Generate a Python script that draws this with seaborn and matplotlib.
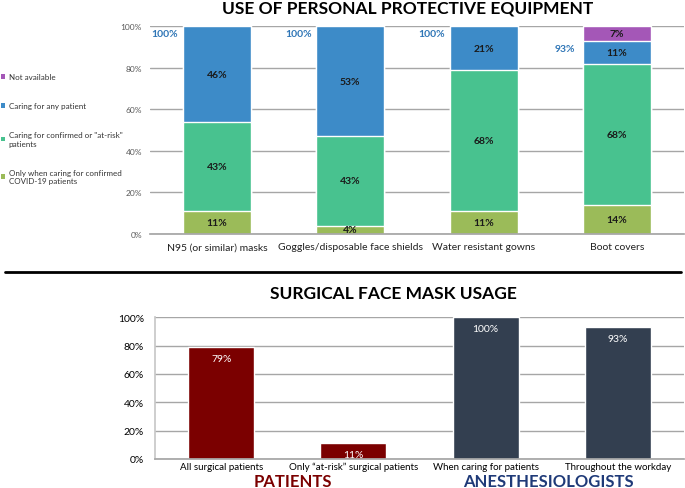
import matplotlib
matplotlib.use("Agg")
import matplotlib.pyplot as plt
import seaborn as sns
import pandas as pd
import numpy as np
from matplotlib.patches import Patch
from matplotlib.lines import Line2D

sns.set_theme(style="white")
plt.rcParams['font.family'] = ['Lato', 'DejaVu Sans']

# ---------------- data ----------------
ppe_items = ["N95 (or similar) masks", "Goggles/disposable face shields",
             "Water resistant gowns", "Boot covers"]
only_confirmed = [11, 4, 11, 14]
confirmed_or_risk = [43, 43, 68, 68]
any_patient = [46, 53, 21, 11]
not_available = [0, 0, 0, 7]
ppe_totals = [100, 100, 100, 93]
series_names = ["Only when caring for confirmed\nCOVID-19 patients",
                "Caring for confirmed or \"at-risk\"\npatients",
                "Caring for any patient",
                "Not available"]
series_colors = ["#9BBB59", "#48C28F", "#3D8BC8", "#A457B7"]

mask_cats = ["All surgical patients", "Only \u201cat-risk\u201d surgical patients",
             "When caring for patients", "Throughout the workday"]
mask_vals = [79, 11, 100, 93]
mask_group = ["PATIENTS", "PATIENTS", "ANESTHESIOLOGISTS", "ANESTHESIOLOGISTS"]
group_colors = {"PATIENTS": "#7B0000", "ANESTHESIOLOGISTS": "#333F50"}
group_text_colors = {"PATIENTS": "#7B0000", "ANESTHESIOLOGISTS": "#1F3A78"}

# ---------------- figure ----------------
W, H = 685, 489
fig = plt.figure(figsize=(W / 100, H / 100), dpi=100)

def ax_rect(x0, x1, ytop, ybot):
    return [x0 / W, 1 - ybot / H, (x1 - x0) / W, (ybot - ytop) / H]

# ---- top chart: stacked bars ----
ax1 = fig.add_axes(ax_rect(150.3, 683.7, 27.3, 234.8))
layers = [only_confirmed, confirmed_or_risk, any_patient, not_available]
cum = np.cumsum(np.array(layers), axis=0)
for k in range(len(layers) - 1, -1, -1):
    df = pd.DataFrame({"item": ppe_items, "value": cum[k]})
    sns.barplot(data=df, x="item", y="value", color=series_colors[k],
                width=0.51, ax=ax1, saturation=1, order=ppe_items)
ax1.set_xlim(-0.5, 3.5)
ax1.set_ylim(0, 100)
ax1.set_yticks(np.arange(0, 101, 20))
ax1.set_yticklabels([f"{v}%" for v in range(0, 101, 20)], fontsize=6, color="#595959")
ax1.set_xticklabels(ppe_items, fontsize=7.5, color="#222222")
ax1.tick_params(axis="x", length=0, pad=6)
ax1.tick_params(axis="y", length=0, pad=6)
ax1.set_xlabel("")
ax1.set_ylabel("")
ax1.yaxis.grid(True, color="#A6A6A6", lw=1)
ax1.set_axisbelow(True)
for s in ["top", "right", "left"]:
    ax1.spines[s].set_visible(False)
ax1.spines["bottom"].set_color("#A6A6A6")

for i in range(len(ppe_items)):
    base = 0
    for k, layer in enumerate(layers):
        v = layer[i]
        if v > 0:
            ax1.text(i, base + v / 2, f"{v}%", ha="center", va="center",
                     fontsize=7.5, fontweight="bold", color="#1a1a1a")
        base += v
    ax1.text(i - 0.39, ppe_totals[i] - 3.5, f"{ppe_totals[i]}%", ha="center",
             va="center", fontsize=7.5, fontweight="bold", color="#2E75B6")

fig.text(408 / W, 1 - 8 / H, "USE OF PERSONAL PROTECTIVE EQUIPMENT", ha="center",
         va="center", fontsize=12.5, fontweight="bold", color="black")

handles = [Patch(facecolor=series_colors[k], edgecolor="none") for k in [3, 2, 1, 0]]
labels = [series_names[k] for k in [3, 2, 1, 0]]
fig.legend(handles, labels, loc="upper left", bbox_to_anchor=(1 / W, 1 - 74 / H),
           frameon=False, fontsize=5.8, handlelength=0.55, handleheight=0.55,
           handletextpad=0.4, labelspacing=2.75, borderaxespad=0, borderpad=0,
           labelcolor="#333333")

# separator line
fig.add_artist(Line2D([5 / W, 681 / W], [1 - 273 / H, 1 - 273 / H], color="black", lw=2))

# ---- bottom chart ----
ax2 = fig.add_axes(ax_rect(155, 684, 318.3, 460))
df2 = pd.DataFrame({"cat": mask_cats, "value": mask_vals, "group": mask_group})
sns.barplot(data=df2, x="cat", y="value", hue="group", palette=group_colors,
            dodge=False, width=0.5, ax=ax2, saturation=1, legend=False, order=mask_cats)
ax2.set_xlim(-0.5, 3.5)
ax2.set_ylim(0, 100)
ax2.set_yticks(np.arange(0, 101, 20))
ax2.set_yticklabels([f"{v}%" for v in range(0, 101, 20)], fontsize=7.5, color="black")
ax2.set_xticklabels(mask_cats, fontsize=7, color="black")
ax2.tick_params(axis="x", length=0, pad=2)
ax2.tick_params(axis="y", length=0, pad=8)
ax2.set_xlabel("")
ax2.set_ylabel("")
ax2.yaxis.grid(True, color="#A6A6A6", lw=1)
ax2.set_axisbelow(True)
for s in ["top", "right"]:
    ax2.spines[s].set_visible(False)
ax2.spines["left"].set_color("#C8C8C8")
ax2.spines["bottom"].set_color("#A6A6A6")
for i, v in enumerate(mask_vals):
    ax2.text(i, v - 8, f"{v}%", ha="center", va="center", fontsize=7.5, color="white")

fig.text(393 / W, 1 - 294 / H, "SURGICAL FACE MASK USAGE", ha="center", va="center",
         fontsize=12.5, fontweight="bold", color="black")
fig.text(293 / W, 1 - 482 / H, "PATIENTS", ha="center", va="center",
         fontsize=12, fontweight="bold", color=group_text_colors["PATIENTS"])
fig.text(548 / W, 1 - 482 / H, "ANESTHESIOLOGISTS", ha="center", va="center",
         fontsize=12, fontweight="bold", color=group_text_colors["ANESTHESIOLOGISTS"])

fig.savefig("out.png", dpi=100)
